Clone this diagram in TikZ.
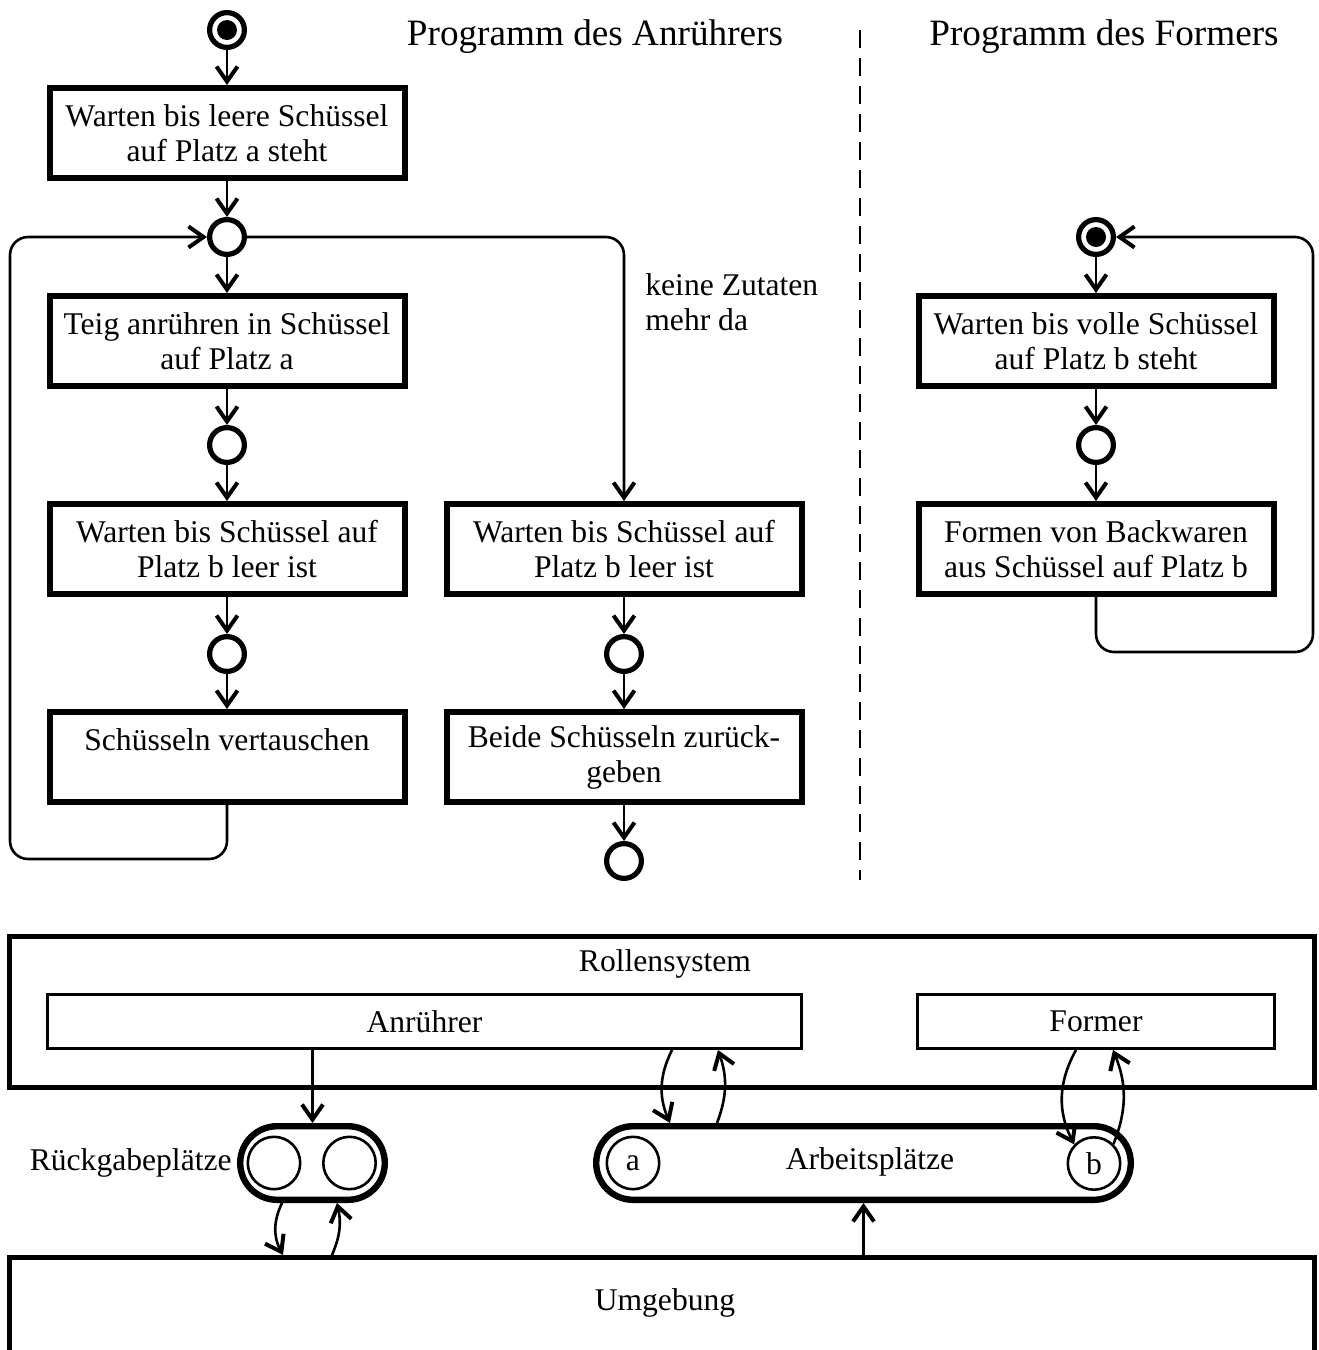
\documentclass[tikz,border=0pt]{standalone}
\usepackage{fontspec}
\setmainfont{Liberation Serif}
\usetikzlibrary{arrows.meta,positioning}

\begin{document}
\begin{tikzpicture}[
  x=0.5pt, y=-0.5pt,
  font=\fontsize{15.8}{17.5}\selectfont,
  aktion/.style={
    rectangle, draw, line width=3pt,
    minimum width=177.5pt, minimum height=45pt,
    align=center, inner sep=2pt,
  },
  knoten/.style={circle, draw, line width=2.6pt, minimum size=17.4pt, inner sep=0pt},
  startknoten/.style={
    knoten,
    path picture={\fill (path picture bounding box.center) circle (5pt);},
  },
  pfeil/.style={-{Straight Barb[length=7.5pt,width=10.5pt,line width=2pt]}, line width=1.3pt},
  titel/.style={font=\fontsize{18.6}{22}\selectfont},
  system/.style={rectangle, draw, line width=2.7pt, minimum width=652.3pt},
  rolle/.style={rectangle, draw, line width=1.3pt, minimum height=27.2pt},
  platz/.style={rectangle, draw, line width=3.2pt, rounded corners=18.4pt, minimum height=36.8pt},
  fach/.style={circle, draw, line width=1.3pt, minimum size=26.2pt, inner sep=0pt},
]
  \useasboundingbox (0,0) rectangle (1318,1350);

  % Ueberschriften und Trennlinie
  \node[titel] (tanr)  at (595,37)  {Programm des Anrührers};
  \node[titel] (tform) at (1104,37) {Programm des Formers};
  \draw[line width=1pt, dash pattern=on 9pt off 5pt] (860,30) -- (860,880);

  % Anruehrer, linker Zweig
  \node[startknoten] (start) at (227,30) {};
  \node[aktion] (leer)   at (227,133) {Warten bis leere Schüssel\\auf Platz a steht};
  \node[knoten] (k1)     at (227,237) {};
  \node[aktion] (teig)   at (227,341) {Teig anrühren in Schüssel\\auf Platz a};
  \node[knoten] (k2)     at (227,445) {};
  \node[aktion] (warta)  at (227,549) {Warten bis Schüssel auf\\Platz b leer ist};
  \node[knoten] (k3)     at (227,654) {};
  \node[aktion] (tausch) at (227,757) {Schüsseln vertauschen\\\mbox{}};

  % Anruehrer, rechter Zweig
  \node[aktion] (wartb)   at (624,549) {Warten bis Schüssel auf\\Platz b leer ist};
  \node[knoten] (k4)      at (624,654) {};
  \node[aktion] (zurueck) at (624,757) {Beide Schüsseln zurück-\\geben};
  \node[knoten] (ende)    at (624,861) {};
  \node[anchor=west, align=left, inner sep=0pt] (keine) at (645,302) {keine Zutaten\\mehr da};

  \draw[pfeil] (start) -- (leer);
  \draw[pfeil] (leer) -- (k1);
  \draw[pfeil] (k1) -- (teig);
  \draw[pfeil] (teig) -- (k2);
  \draw[pfeil] (k2) -- (warta);
  \draw[pfeil] (warta) -- (k3);
  \draw[pfeil] (k3) -- (tausch);
  \draw[pfeil, rounded corners=9pt] (tausch.south) |- ++(-217,54) |- (k1);
  \draw[pfeil, rounded corners=9pt] (k1) -| (wartb);
  \draw[pfeil] (wartb) -- (k4);
  \draw[pfeil] (k4) -- (zurueck);
  \draw[pfeil] (zurueck) -- (ende);

  % Former
  \node[startknoten] (fstart) at (1096,237) {};
  \node[aktion] (wartv)  at (1096,341) {Warten bis volle Schüssel\\auf Platz b steht};
  \node[knoten] (k5)     at (1096,445) {};
  \node[aktion] (formen) at (1096,549) {Formen von Backwaren\\aus Schüssel auf Platz b};

  \draw[pfeil] (fstart) -- (wartv);
  \draw[pfeil] (wartv) -- (k5);
  \draw[pfeil] (k5) -- (formen);
  \draw[pfeil, rounded corners=9pt] (formen.south) |- ++(217,55) |- (fstart);

  % Rollensystem
  \node[system, minimum height=75.3pt] (rollen) at (662,1012) {};
  \node (rollentext) at (665,964) {Rollensystem};
  \node[rolle, minimum width=377.2pt] (anr) at (424.5,1021.5) {Anrührer};
  \node[rolle, minimum width=178.7pt] (frm) at (1096,1021.5) {Former};

  % Plaetze
  \node[platz, minimum width=72.3pt] (rueck) at (312.5,1163) {};
  \node[fach] (r1) at (274,1163) {};
  \node[fach] (r2) at (349.5,1163) {};
  \node[anchor=east, inner sep=0pt] (rtext) at (232,1163) {Rückgabeplätze};

  \node[platz, minimum width=267.3pt] (arb) at (863.5,1163) {};
  \node (arbtext) at (870,1162) {Arbeitsplätze};
  \node[fach] (pa) at (633,1163) {a};
  \node[fach] (pb) at (1094,1163.5) {b};

  % Umgebung, unten vom Rand abgeschnitten
  \node[system, minimum height=47.8pt] (umg) at (662,1305.5) {};
  \node (umgtext) at (665,1303) {Umgebung};

  \draw[pfeil] (anr.south -| rueck.north) -- (rueck.north);
  \draw[pfeil] ([xshift=-95.75pt]arb.north |- anr.south) to[bend right=25] ([xshift=-96.75pt]arb.north);
  \draw[pfeil] ([xshift=-73.25pt]arb.north) to[bend right=20] ([xshift=-72.75pt]arb.north |- anr.south);
  \draw[pfeil] ([xshift=-10pt]frm.south) to[bend right=28] (pb.136);
  \draw[pfeil] (pb.45) to[bend right=22] ([xshift=8.5pt]frm.south);
  \draw[pfeil] ([xshift=-15.25pt]rueck.south) to[bend right=27] ([xshift=-14.75pt]rueck.south |- umg.north);
  \draw[pfeil] ([xshift=9.75pt]rueck.south |- umg.north) to[bend right=18] ([xshift=12.25pt]rueck.south);
  \draw[pfeil] (umg.north -| arb.south) -- (arb.south);
\end{tikzpicture}
\end{document}
